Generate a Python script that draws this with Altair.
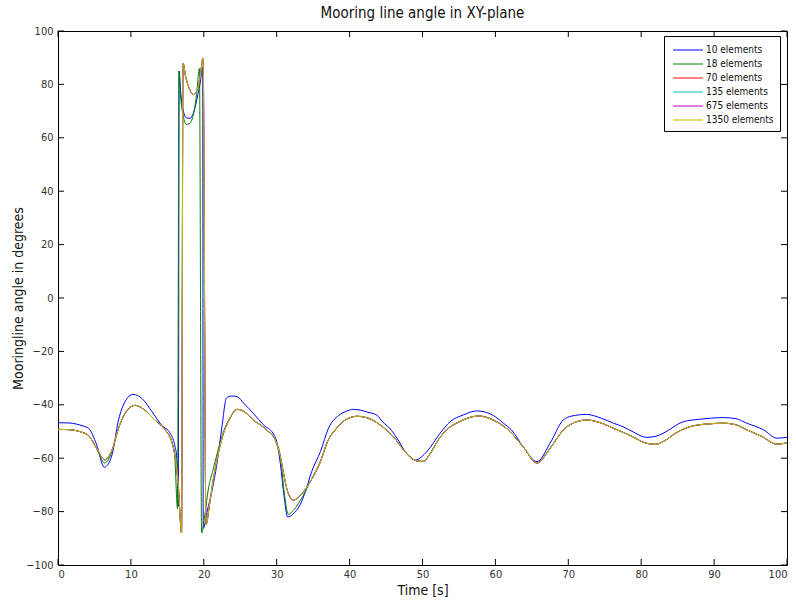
import altair as alt
import pandas as pd

FONT = "DejaVu Sans Condensed, Liberation Sans Narrow, sans-serif"

series_names = ["10 elements", "18 elements", "70 elements", "135 elements", "675 elements", "1350 elements"]
series_colors = ["#0000ff", "#008000", "#ff0000", "#00bfbf", "#bf00bf", "#bfbf00"]

x_ticks = [0, 10, 20, 30, 40, 50, 60, 70, 80, 90, 100]
y_ticks = [-100, -80, -60, -40, -20, 0, 20, 40, 60, 80, 100]

# 10 elements
t_blue = [0, 1.5, 2.5, 3.5, 4.2, 5.3, 6.35, 7.4, 8.3, 9.2,
          10.3, 11.5, 12.9, 14.2, 15.4, 16.0, 16.3, 16.5, 16.62, 16.8,
          17.2, 17.6, 18.1, 18.6, 19.1, 19.5, 19.85, 19.92, 20.5, 21.1,
          21.8, 22.5, 23.1, 23.8, 24.6, 25.5, 26.8, 28.2, 29.5, 30.0,
          30.5, 31.0, 31.5, 32.2, 33.2, 34.0, 34.8, 36.0, 37.1, 38.5,
          39.5, 40.5, 41.5, 42.5, 43.7, 44.5, 45.5, 46.5, 47.8, 49.0,
          50.6, 52.4, 53.8, 55.6, 57.4, 58.8, 60.0, 61.1, 62.2, 63.8,
          65.7, 67.5, 69.3, 70.5, 72.5, 74.5, 76.2, 77.5, 79.0, 80.7,
          82.0, 83.0, 85.8, 88.1, 91.3, 93.0, 94.5, 96.8, 98.6, 100]
v_blue = [-46.7, -46.8, -47.2, -48.0, -48.8, -55.0, -63.4, -58.8, -45.7, -38.8,
          -36.1, -37.6, -42.6, -47.6, -50.7, -55.0, -60.0, -78.0, 85.0, 78.0,
          70.0, 67.5, 67.3, 69.5, 75.0, 80.5, 86.5, -86.3, -79.4, -72.5,
          -62.0, -48.0, -37.5, -36.7, -37.0, -39.5, -43.2, -47.6, -50.7, -53.8,
          -62.0, -74.0, -82.0, -81.0, -77.5, -72.0, -65.0, -57.5, -48.8, -44.0,
          -42.5, -41.7, -42.0, -42.8, -43.8, -46.3, -48.8, -52.5, -58.2, -60.7,
          -57.5, -50.7, -46.3, -43.8, -42.3, -42.9, -44.5, -46.9, -49.4, -55.7,
          -61.3, -54.4, -45.7, -44.2, -43.6, -45.0, -46.9, -48.2, -50.3, -52.2,
          -51.8, -50.7, -46.3, -45.4, -44.8, -45.2, -46.9, -49.4, -52.5, -52.2]

# 18 elements
t_green = [0, 1.5, 2.7, 3.5, 4.2, 5.3, 6.4, 7.4, 8.3, 9.2,
           10.6, 11.9, 13.3, 14.7, 15.6, 16.0, 16.4, 16.6, 16.8, 17.2,
           17.6, 18.1, 18.6, 19.0, 19.4, 19.7, 20.2, 20.6, 21.3, 22.0,
           22.7, 23.5, 24.6, 25.5, 26.8, 28.6, 29.8, 30.5, 31.0, 31.6,
           32.3, 33.2, 34.6, 35.9, 37.1, 38.0, 39.0, 40.0, 41.0, 42.0,
           43.0, 44.2, 46.0, 47.8, 49.2, 50.1, 51.0, 52.2, 53.3, 55.1,
           57.7, 59.7, 61.5, 63.8, 65.7, 67.5, 69.0, 70.2, 72.5, 74.5,
           76.2, 78.5, 80.7, 82.0, 83.2, 84.8, 86.7, 89.0, 91.3, 93.0,
           94.5, 96.5, 98.6, 100]
v_green = [-49.2, -49.3, -49.8, -50.5, -51.5, -56.5, -61.8, -57.5, -48.8, -43.2,
           -40.2, -42.0, -45.7, -49.4, -53.8, -59.0, -79.0, 85.0, 76.0, 68.0,
           65.0, 65.5, 69.0, 76.0, 86.0, -88.0, -80.0, -72.0, -64.0, -56.5,
           -50.0, -45.3, -41.7, -42.5, -45.7, -49.4, -53.2, -59.4, -72.0, -81.0,
           -79.5, -76.0, -68.8, -61.9, -53.0, -49.5, -46.5, -44.9, -44.3, -44.6,
           -45.5, -47.6, -51.9, -58.2, -61.0, -61.2, -58.5, -53.0, -49.4, -46.3,
           -44.2, -45.7, -48.8, -55.7, -61.8, -56.3, -50.5, -47.5, -45.7, -46.8,
           -48.8, -51.5, -54.4, -54.8, -53.5, -50.5, -48.2, -47.2, -46.9, -47.5,
           -49.4, -51.8, -54.7, -54.3]

# 70 / 135 / 675 / 1350 elements (practically coincident)
t_fine = [0, 1.5, 2.7, 3.5, 4.2, 5.3, 6.4, 7.4, 8.3, 9.2,
          10.6, 11.9, 13.3, 14.7, 15.6, 16.1, 16.5, 16.95, 17.15, 17.5,
          18.0, 18.6, 19.1, 19.5, 19.9, 20.3, 20.8, 21.3, 22.0, 22.7,
          23.5, 24.6, 25.5, 26.8, 28.6, 29.8, 30.5, 31.0, 31.5, 32.3,
          33.2, 34.6, 35.9, 37.1, 38.0, 39.0, 40.0, 41.0, 42.0, 43.0,
          44.2, 46.0, 47.8, 49.2, 50.1, 51.0, 52.2, 53.3, 55.1, 57.7,
          59.7, 61.5, 63.8, 65.7, 67.5, 69.0, 70.2, 72.5, 74.5, 76.2,
          78.5, 80.7, 82.0, 83.2, 84.8, 86.7, 89.0, 91.3, 93.0, 94.5,
          96.5, 98.6, 100]
v_fine = [-49.2, -49.3, -49.8, -50.5, -51.5, -56.3, -60.6, -57.0, -48.8, -43.2,
          -40.2, -42.0, -45.7, -49.4, -53.8, -60.0, -70.0, -88.0, 88.0, 83.0,
          78.5, 76.2, 78.0, 83.0, 89.8, -85.0, -77.0, -68.0, -58.0, -50.7,
          -45.5, -41.7, -42.5, -45.7, -49.4, -53.2, -59.4, -66.5, -72.5, -75.7,
          -74.0, -68.8, -61.9, -53.0, -49.5, -46.5, -44.9, -44.3, -44.6, -45.5,
          -47.6, -51.9, -58.2, -61.0, -61.2, -58.5, -53.0, -49.4, -46.3, -44.2,
          -45.7, -48.8, -55.7, -61.8, -56.3, -50.5, -47.5, -45.7, -46.8, -48.8,
          -51.5, -54.4, -54.8, -53.5, -50.5, -48.2, -47.2, -46.9, -47.5, -49.4,
          -51.8, -54.7, -54.3]

series_data = [(t_blue, v_blue), (t_green, v_green), (t_fine, v_fine),
               (t_fine, v_fine), (t_fine, v_fine), (t_fine, v_fine)]

rows = []
for name, (ts, vs) in zip(series_names, series_data):
    for t, v in zip(ts, vs):
        rows.append({"series": name, "t": t, "v": v})
df = pd.DataFrame(rows)

W, H = 729, 534
xscale = alt.Scale(domain=[0, 100], nice=False, zero=False)
yscale = alt.Scale(domain=[-100, 100], nice=False, zero=False)

xaxis = alt.Axis(values=x_ticks, title="Time [s]", ticks=False, domain=False, grid=False,
                 labelPadding=3, labelFontSize=11, labelColor="#333333", labelFont=FONT,
                 titleFont=FONT, titleFontSize=14, titleFontWeight="normal", titleColor="#111111",
                 titlePadding=4)
yaxis = alt.Axis(values=y_ticks, title="Mooringline angle in degrees", ticks=False, domain=False,
                 grid=False, labelPadding=5, labelFontSize=11, labelColor="#333333", labelFont=FONT,
                 titleFont=FONT, titleFontSize=14, titleFontWeight="normal", titleColor="#111111",
                 titlePadding=0)

lines = alt.Chart(df).mark_line(strokeWidth=1, interpolate="monotone", clip=True).encode(
    x=alt.X("t:Q", scale=xscale, axis=xaxis),
    y=alt.Y("v:Q", scale=yscale, axis=yaxis),
    color=alt.Color("series:N", scale=alt.Scale(domain=series_names, range=series_colors), title=None,
                    legend=alt.Legend(orient="none", legendX=606, legendY=5, padding=6,
                                      strokeColor="black", fillColor="white",
                                      symbolType="M-2,0H2", symbolSize=225,
                                      symbolStrokeWidth=1, labelFontSize=10,
                                      labelFont=FONT, labelColor="#111111", rowPadding=1,
                                      labelOffset=10, symbolOffset=10, symbolOpacity=1)),
)

xt = pd.DataFrame({"t": x_ticks})
yt = pd.DataFrame({"v": y_ticks})

bottom_ticks = alt.Chart(xt).mark_rule(color="black", strokeWidth=1).encode(
    x=alt.X("t:Q", scale=xscale, axis=xaxis), y=alt.value(H), y2=alt.value(H - 6))
top_ticks = alt.Chart(xt).mark_rule(color="black", strokeWidth=1).encode(
    x=alt.X("t:Q", scale=xscale, axis=xaxis), y=alt.value(0), y2=alt.value(6))
left_ticks = alt.Chart(yt).mark_rule(color="black", strokeWidth=1).encode(
    y=alt.Y("v:Q", scale=yscale, axis=yaxis), x=alt.value(0), x2=alt.value(6))
right_ticks = alt.Chart(yt).mark_rule(color="black", strokeWidth=1).encode(
    y=alt.Y("v:Q", scale=yscale, axis=yaxis), x=alt.value(W), x2=alt.value(W - 6))

chart = alt.layer(lines, bottom_ticks, top_ticks, left_ticks, right_ticks).properties(
    width=W, height=H,
    title=alt.TitleParams("Mooring line angle in XY-plane", font=FONT, fontSize=15,
                          fontWeight="normal", color="#111111", offset=4),
    autosize=alt.AutoSizeParams(type="none"),
    padding={"left": 58, "top": 31, "right": 9, "bottom": 38},
    background="white",
).configure_view(stroke="black", strokeWidth=1)

chart.save("out.html", embed_options={"renderer": "svg", "actions": False})
